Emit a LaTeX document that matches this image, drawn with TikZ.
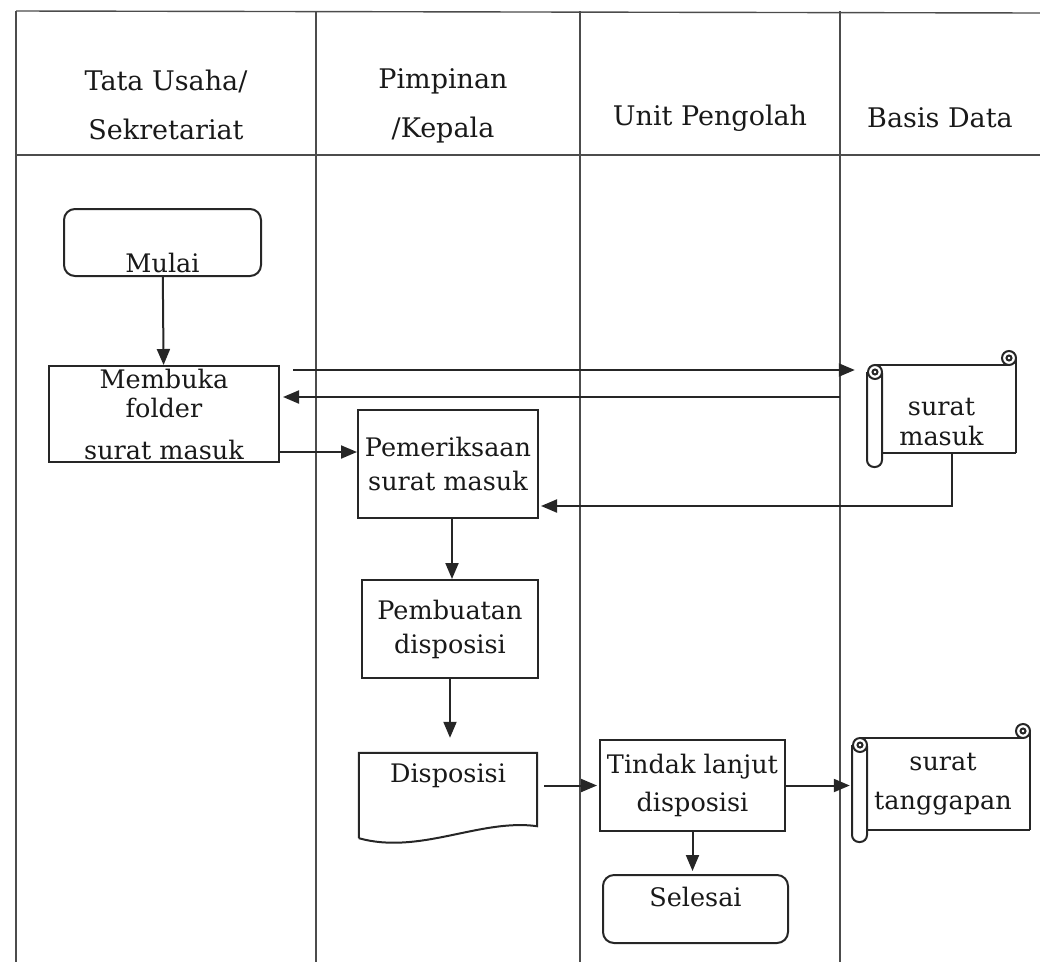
\documentclass[tikz,border=0pt]{standalone}
\usepackage{fontspec}
\setmainfont{DejaVu Serif}
\usetikzlibrary{arrows.meta,calc}
\newcommand{\bodyfont}{\fontsize{25.5}{34}\selectfont}
\newcommand{\myscroll}[5]{%
  \draw[ln] ({#2},{#4}) -- ({#2},{#3-7});
  \draw[ln] ({#1+8},{#3}) -- ({#2-7},{#3});
  \draw[ln,fill=white] ({#2-7},{#3-7}) circle[radius=7];
  \draw[ln] ({#2-7},{#3-7}) circle[radius=2.5];
  \draw[ln] ({#1+15},{#4}) -- ({#2},{#4});
  \draw[ln,rounded corners=7pt] ({#1},{#3+7}) -- ({#1},{#5}) -- ({#1+15},{#5}) -- ({#1+15},{#3+8});
  \draw[ln,fill=white] ({#1+8},{#3+7}) circle[radius=7];
  \draw[ln] ({#1+8},{#3+7}) circle[radius=2.5];
}
\begin{document}
\begin{tikzpicture}[x=1pt,y=-1pt,
  ln/.style={line width=2pt,draw=black!85},
  grid/.style={line width=1.4pt,draw=black!70},
  arr/.style={ln,-{Triangle[length=16pt,width=13pt]}},
  box/.style={ln,rectangle,inner sep=0pt,align=center,font=\bodyfont,text=black!90},
  rbox/.style={box,rounded corners=11pt},
  plain/.style={rectangle,inner sep=0pt,align=center,font=\bodyfont,text=black!90},
  head/.style={align=center,font=\fontsize{27}{49}\selectfont,text=black!90},
  every label/.style={font=\bodyfont,text=black!90,inner sep=0pt,align=center},
]
\useasboundingbox (0,0) rectangle (1040,962);
% swimlane grid
\draw[grid] (16,11) -- (1040,13);
\draw[grid] (16,155) -- (1040,155);
\foreach \x in {16,316,580,840} \draw[grid] (\x,11) -- (\x,962);
% headers
\node[head] (h1) at (166,105) {Tata Usaha/\\Sekretariat};
\node[head] (h2) at (443,106) {Pimpinan\\/Kepala};
\node[head] (h3) at (710,118) {Unit Pengolah};
\node[head] (h4) at (940,118) {Basis Data};
% nodes
\node[rbox,minimum width=197pt,minimum height=67pt,label={[yshift=-20.5pt]center:Mulai}] (mulai) at (162.5,242.5) {};
\node[box,minimum width=230pt,minimum height=96pt,font=\fontsize{25.5}{29}\selectfont] (membuka) at (164,414) {Membuka\\folder\\[13pt]surat masuk};
\node[box,minimum width=180pt,minimum height=108pt] (pem) at (448,464) {Pemeriksaan\\surat masuk};
\node[box,minimum width=176pt,minimum height=98pt] (pemb) at (450,629) {Pembuatan\\disposisi};
\node[plain,minimum width=178pt,minimum height=85pt,label={[yshift=19.5pt]center:Disposisi}] (disp) at (448,795.5) {};
\draw[ln] (disp.south west) -- (disp.north west) -- (disp.north east) -- ($(disp.south east)+(0,-12)$) .. controls ($(disp.south east)+(-57,-20)$) and ($(disp.south west)+(61,17)$) .. (disp.south west);
\node[box,minimum width=185pt,minimum height=91pt,font=\fontsize{25.5}{38}\selectfont] (tindak) at (692.5,785.5) {Tindak lanjut\\disposisi};
\node[rbox,minimum width=185pt,minimum height=68pt,label={[yshift=12pt]center:Selesai}] (selesai) at (695.5,909) {};
\node[plain,minimum width=149pt,minimum height=88pt,label={[yshift=-13pt,font=\fontsize{25.5}{30}\selectfont]center:{surat\\masuk}}] (sm) at (941.5,409) {};
\myscroll{867}{1016}{365}{453}{467}
\node[plain,minimum width=178pt,minimum height=92pt,font=\fontsize{25.5}{39}\selectfont] (st) at (943,784) {surat\\tanggapan};
\myscroll{852}{1030}{738}{830}{842}
% connectors
\draw[arr] (mulai) -- (membuka);
\draw[arr] ($(membuka.north east)+(13,5)$) -- ($(membuka.north east -| sm.west)+(-12,5)$);
\draw[arr] ($(membuka.north east -| sm.west)+(-27,32)$) -- ($(membuka.north east)+(3,32)$);
\draw[arr] ($(membuka.south east)+(0,-11)$) -- ($(membuka.south east -| pem.west)+(0,-11)$);
\draw[arr] ($(sm.south)+(10.5,0)$) |- ($(pem.south east)+(2,-13)$);
\draw[arr] ($(pem.south)+(4,0)$) -- ($(pem.south |- pemb.north)+(4,0)$);
\draw[arr] (pemb.south) -- ($(pemb.south |- disp.north)+(0,-15)$);
\draw[arr] ($(disp.east |- tindak.west)+(7,0)$) -- ($(tindak.west)+(-2,0)$);
\draw[arr] (tindak.south) -- ($(tindak.south |- selesai.north)+(0,-3)$);
\draw[arr] (tindak.east) -- ($(tindak.east -| st.west)+(-4,0)$);
\end{tikzpicture}
\end{document}
